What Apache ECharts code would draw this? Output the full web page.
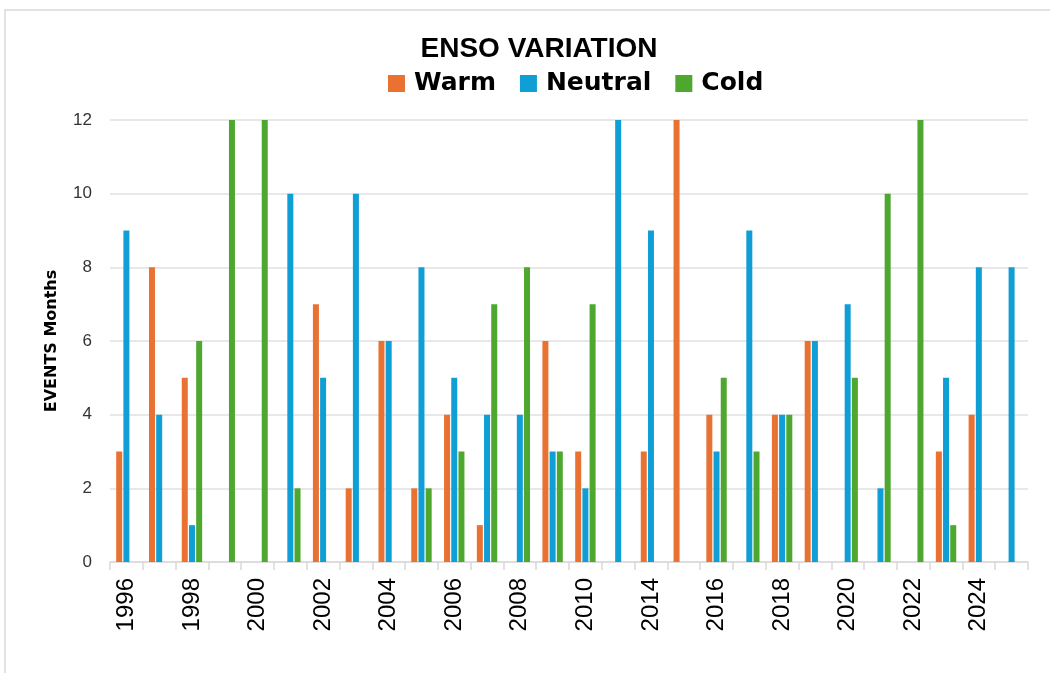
<!DOCTYPE html>
<html>
<head>
<meta charset="utf-8">
<script src="https://cdn.jsdelivr.net/npm/echarts@6/dist/echarts.min.js"></script>
<style>html,body{margin:0;padding:0;background:#fff}#c{width:1050px;height:673px}</style>
</head>
<body>
<div id="c"></div>
<script>
const years = ['1996','1997','1998','1999','2000','2001','2002','2003','2004','2005','2006','2007','2008','2009','2010','2013','2014','2015','2016','2017','2018','2019','2020','2021','2022','2023','2024','2025'];
const warm    = [3,8,5,0,0,0,7,2,6,2,4,1,0,6,3,0,3,12,4,0,4,6,0,0,0,3,4,0];
const neutral = [9,4,1,0,0,10,5,10,6,8,5,4,4,3,2,12,9,0,3,9,4,6,7,2,0,5,8,8];
const cold    = [0,0,6,12,12,2,0,0,0,2,3,7,8,3,7,0,0,0,5,3,4,0,5,10,12,1,0,0];
const yTicks = [0,2,4,6,8,10,12];

const chart = echarts.init(document.getElementById('c'));
const bw = 6;
chart.setOption({
  animation: false,
  backgroundColor: '#fff',
  graphic: [{type:'rect', shape:{x:5,y:10,width:1100,height:700}, style:{fill:'none', stroke:'#d9d9d9', lineWidth:1.5}, silent:true}],
  title: {
    text: 'ENSO VARIATION', left: 534, textAlign: 'center', top: 30,
    textStyle: {fontFamily: 'Liberation Sans, Arial', fontWeight: 'bold', fontSize: 28, color: '#000'}
  },
  legend: {
    left: 383, top: 66, itemWidth: 17, itemHeight: 17, itemGap: 24,
    icon: 'rect',
    textStyle: {fontFamily: 'DejaVu Sans', fontWeight: 'bold', fontSize: 25, color: '#000', padding:[0,0,0,4]},
    data: ['Warm','Neutral','Cold']
  },
  grid: {left: 110, right: 22, top: 120, bottom: 111, containLabel: false},
  xAxis: {
    type: 'category', data: years,
    axisLine: {lineStyle: {color: '#d9d9d9', width: 1.5}},
    axisTick: {show: true, interval: 0, length: 8, lineStyle: {color: '#d9d9d9', width: 1.5}},
    axisLabel: {interval: 1, rotate: 90, margin: 16, fontSize: 24, color: '#000', fontFamily: 'Liberation Sans, Arial'}
  },
  yAxis: {
    type: 'value', min: yTicks[0], max: yTicks[yTicks.length-1], interval: 2,
    name: 'EVENTS Months', nameLocation: 'middle', nameGap: 50, nameRotate: 90,
    nameTextStyle: {fontFamily: 'DejaVu Sans', fontWeight: 'bold', fontSize: 16, color: '#000'},
    axisLine: {show: false}, axisTick: {show: false},
    axisLabel: {fontSize: 17, color: '#333', margin: 18, fontFamily: 'Liberation Sans, Arial'},
    splitLine: {lineStyle: {color: '#e0e0e0', width: 1.5}}
  },
  series: [
    {name: 'Warm', type: 'bar', data: warm, barWidth: bw, barGap: '20%', itemStyle: {color: '#E97132'}},
    {name: 'Neutral', type: 'bar', data: neutral, barWidth: bw, barGap: '20%', itemStyle: {color: '#0F9ED5'}},
    {name: 'Cold', type: 'bar', data: cold, barWidth: bw, barGap: '20%', itemStyle: {color: '#4EA72E'}}
  ]
});
</script>
</body>
</html>
